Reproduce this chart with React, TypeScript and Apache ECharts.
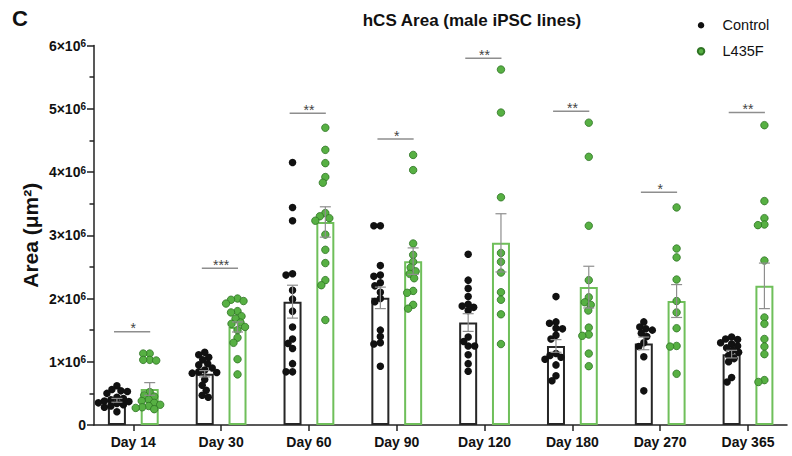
import React, { useEffect, useRef } from "react";
import * as echarts from "echarts";

const FONT = '"Liberation Sans", Arial, Helvetica, sans-serif';

// Categories
const days = ["Day 14", "Day 30", "Day 60", "Day 90", "Day 120", "Day 180", "Day 270", "Day 365"];

// Individual organoid areas, in 10^6 µm²
const controlValues: number[][] = [
  [0.62, 0.56, 0.54, 0.53, 0.5, 0.44, 0.42, 0.4, 0.38, 0.37, 0.35, 0.34, 0.32, 0.3, 0.28, 0.21],
  [1.15, 1.11, 1.07, 1.03, 0.97, 0.95, 0.9, 0.87, 0.84, 0.83, 0.82, 0.72, 0.63, 0.55, 0.47, 0.44],
  [4.15, 3.44, 3.23, 2.39, 2.37, 2.13, 1.99, 1.8, 1.55, 1.36, 1.29, 1.21, 0.97, 0.84, 0.84],
  [3.15, 3.15, 2.52, 2.37, 2.35, 2.25, 2.2, 2.1, 2.0, 1.95, 1.5, 1.4, 1.3, 1.28, 0.93],
  [2.7, 2.29, 2.16, 2.03, 1.91, 1.88, 1.86, 1.81, 1.39, 1.32, 1.25, 1.25, 1.11, 0.97, 0.85],
  [2.03, 1.63, 1.61, 1.53, 1.52, 1.42, 1.36, 1.13, 1.1, 1.07, 1.04, 0.95, 0.78, 0.7],
  [1.63, 1.55, 1.52, 1.5, 1.45, 1.4, 1.3, 1.24, 1.08, 0.54],
  [1.39, 1.36, 1.35, 1.3, 1.28, 1.25, 1.22, 1.18, 1.15, 1.1, 1.05, 1.0, 0.75, 0.68],
];
const l435fValues: number[][] = [
  [1.13, 1.13, 1.03, 1.03, 1.02, 0.52, 0.47, 0.45, 0.4, 0.38, 0.35, 0.32, 0.3, 0.28, 0.27, 0.25],
  [2.0, 1.98, 1.96, 1.92, 1.8, 1.78, 1.72, 1.68, 1.62, 1.6, 1.55, 1.5, 1.38, 1.3, 1.04, 0.8],
  [4.7, 4.35, 4.14, 3.92, 3.83, 3.35, 3.3, 3.27, 3.23, 3.01, 2.77, 2.56, 2.29, 2.21, 1.66],
  [4.27, 4.03, 2.87, 2.69, 2.58, 2.49, 2.43, 2.39, 2.32, 2.12, 2.09, 1.9, 1.84],
  [5.62, 4.94, 3.6, 2.72, 2.58, 2.41, 2.1, 1.98, 1.75, 1.28],
  [4.78, 4.24, 3.15, 2.29, 2.02, 1.94, 1.9, 1.81, 1.54, 1.43, 1.41, 1.13, 0.93],
  [3.44, 2.79, 2.65, 2.3, 1.96, 1.78, 1.53, 1.25, 1.24, 0.81],
  [4.74, 3.54, 3.27, 3.17, 3.16, 2.6, 1.7, 1.6, 1.36, 1.24, 1.12, 0.71, 0.68],
];

// Bar heights (mean) and SEM, in 10^6 µm²
const controlMean = [0.39, 0.81, 1.95, 2.01, 1.62, 1.25, 1.29, 1.12];
const controlSem = [0.03, 0.05, 0.26, 0.17, 0.14, 0.1, 0.1, 0.06];
const l435fMean = [0.57, 1.55, 3.21, 2.59, 2.88, 2.18, 1.96, 2.2];
const l435fSem = [0.1, 0.08, 0.24, 0.21, 0.46, 0.33, 0.26, 0.36];

// Significance brackets
const sigLevel = [1.475, 2.48, 4.93, 4.52, 5.8, 4.96, 3.68, 4.94];
const sigLabels = ["*", "***", "**", "*", "**", "**", "*", "**"];

// Y ticks
const yTicks = [0, 1, 2, 3, 4, 5, 6];

// Layout
const W = 792;
const H = 456;
const GRID_LEFT = 94;
const GRID_RIGHT = 5;
const GRID_TOP = 45.5;
const GRID_BOTTOM = 31;
const X_MIN = -0.4476;
const X_MAX = 7.444;
const PX_PER_X = (W - GRID_LEFT - GRID_RIGHT) / (X_MAX - X_MIN);
const PX_PER_Y = (H - GRID_TOP - GRID_BOTTOM) / (yTicks[yTicks.length - 1] - yTicks[0]);
const BAR_OFF = 16.4 / PX_PER_X;
const SIG_L = 19.3 / PX_PER_X;
const SIG_R = 16.9 / PX_PER_X;

const BLACK = "#111111";
const GREEN_BAR = "#6fbf5a";
const GREEN_DOT = "#57b043";
const GREEN_DOT_EDGE = "#2f7424";
const GREY = "#8e8e8e";

function swarmOffsets(values: number[], d: number): number[] {
  const idx = values.map((_, i) => i).sort((a, b) => values[b] - values[a]);
  const placed: { x: number; y: number }[] = [];
  const out = new Array(values.length).fill(0);
  for (const i of idx) {
    const y = values[i] * PX_PER_Y;
    for (let s = 0; s < 400; s++) {
      const c = s === 0 ? 0 : (s % 2 === 1 ? -1 : 1) * Math.ceil(s / 2) * 0.5;
      if (placed.every((p) => (p.x - c) ** 2 + (p.y - y) ** 2 >= d * d)) {
        out[i] = c;
        placed.push({ x: c, y });
        break;
      }
    }
  }
  return out;
}

function pointsFor(groups: number[][], side: number): number[][] {
  const res: number[][] = [];
  groups.forEach((vals, i) => {
    const jit = swarmOffsets(vals, 6.2);
    vals.forEach((v, k) => res.push([i + side * BAR_OFF + jit[k] / PX_PER_X, v]));
  });
  return res;
}

export default function App() {
  const ref = useRef<HTMLDivElement>(null);
  useEffect(() => {
    if (!ref.current) return;
    const chart = echarts.init(ref.current, undefined, { renderer: "svg" });

    const barData: any[] = [];
    days.forEach((_, i) => {
      barData.push({
        value: [i - BAR_OFF, controlMean[i]],
        itemStyle: { color: "rgba(255,255,255,0)", borderColor: "#262626", borderWidth: 2 },
      });
      barData.push({
        value: [i + BAR_OFF, l435fMean[i]],
        itemStyle: { color: "rgba(255,255,255,0)", borderColor: GREEN_BAR, borderWidth: 2 },
      });
    });

    const errData: number[][] = [];
    days.forEach((_, i) => {
      errData.push([i - BAR_OFF, controlMean[i], controlSem[i]]);
      errData.push([i + BAR_OFF, l435fMean[i], l435fSem[i]]);
    });

    const sigData = sigLevel.map((y, i) => [i, y]);

    const option: any = {
      animation: false,
      backgroundColor: "#ffffff",
      textStyle: { fontFamily: FONT },
      grid: {
        left: GRID_LEFT,
        right: GRID_RIGHT,
        top: GRID_TOP,
        bottom: GRID_BOTTOM,
        containLabel: false,
        outerBoundsMode: "none",
      },
      legend: {
        data: [
          { name: "Control", icon: "circle" },
          { name: "L435F", icon: "circle" },
        ],
        orient: "vertical",
        left: 696.8,
        top: 17.8,
        padding: 0,
        itemWidth: 33,
        itemHeight: 6.5,
        itemGap: 11,
        selectedMode: false,
        textStyle: { fontSize: 14.5, fontFamily: FONT, color: "#111" },
      },
      graphic: [
        {
          type: "text",
          x: 12,
          y: 18,
          style: {
            text: "C",
            fill: "#111",
            fontSize: 22,
            fontWeight: "bold",
            fontFamily: FONT,
            align: "left",
            verticalAlign: "middle",
          },
        },
        {
          type: "text",
          x: 472,
          y: 20,
          style: {
            text: "hCS Area (male iPSC lines)",
            fill: "#111",
            fontSize: 17,
            fontWeight: "bold",
            fontFamily: FONT,
            align: "center",
            verticalAlign: "middle",
          },
        },
      ],
      xAxis: {
        type: "value",
        min: X_MIN,
        max: X_MAX,
        splitLine: { show: false },
        axisLine: { show: true, onZero: false, lineStyle: { color: "#222", width: 1.5 } },
        axisTick: {
          show: true,
          length: 6,
          customValues: days.map((_, i) => i),
          lineStyle: { color: "#222", width: 1.5 },
        },
        axisLabel: {
          customValues: days.map((_, i) => i),
          formatter: (v: number) => days[Math.round(v)] ?? "",
          margin: 10,
          fontSize: 14,
          fontWeight: "bold",
          fontFamily: FONT,
          color: "#111",
        },
      },
      yAxis: {
        type: "value",
        min: yTicks[0],
        max: yTicks[yTicks.length - 1],
        interval: 1,
        name: "Area (μm²)",
        nameLocation: "middle",
        nameGap: 53,
        nameMoveOverlap: false,
        nameTextStyle: { fontSize: 21, fontWeight: "bold", fontFamily: FONT, color: "#111" },
        splitLine: { show: false },
        axisLine: { show: true, onZero: false, lineStyle: { color: "#222", width: 1.5 } },
        axisTick: { show: true, length: 7, lineStyle: { color: "#222", width: 1.5 } },
        minorTick: { show: true, splitNumber: 2, length: 4.5, lineStyle: { color: "#222", width: 1.5 } },
        minorSplitLine: { show: false },
        axisLabel: {
          margin: 8,
          formatter: (v: number) => (v === 0 ? "{a|0}" : `{a|${v}×10}{s|6}`),
          rich: {
            a: { fontSize: 14, fontWeight: "bold", fontFamily: FONT, color: "#111" },
            s: {
              fontSize: 10,
              fontWeight: "bold",
              fontFamily: FONT,
              color: "#111",
              verticalAlign: "top",
              lineHeight: 7,
            },
          },
        },
      },
      series: [
        {
          name: "means",
          type: "bar",
          barWidth: 18,
          data: barData,
          z: 2,
        },
        {
          name: "Control",
          type: "scatter",
          symbol: "circle",
          symbolSize: 7.5,
          itemStyle: { color: BLACK, opacity: 1 },
          data: pointsFor(controlValues, -1),
          z: 3,
        },
        {
          name: "L435F",
          type: "scatter",
          symbol: "circle",
          symbolSize: 7.5,
          itemStyle: { color: GREEN_DOT, borderColor: GREEN_DOT_EDGE, borderWidth: 0.8, opacity: 1 },
          data: pointsFor(l435fValues, 1),
          z: 3,
        },
        {
          name: "sem",
          type: "custom",
          z: 4,
          data: errData,
          encode: { x: 0, y: 1 },
          renderItem: (params: any, api: any) => {
            const x = api.value(0);
            const m = api.value(1);
            const s = api.value(2);
            const top = api.coord([x, m + s]);
            const bot = api.coord([x, m - s]);
            const half = 5.5;
            const st = { stroke: GREY, lineWidth: 1.2 };
            return {
              type: "group",
              children: [
                { type: "line", shape: { x1: top[0], y1: top[1], x2: bot[0], y2: bot[1] }, style: st },
                { type: "line", shape: { x1: top[0] - half, y1: top[1], x2: top[0] + half, y2: top[1] }, style: st },
                { type: "line", shape: { x1: bot[0] - half, y1: bot[1], x2: bot[0] + half, y2: bot[1] }, style: st },
              ],
            };
          },
        },
        {
          name: "significance",
          type: "custom",
          z: 4,
          data: sigData,
          encode: { x: 0, y: 1 },
          renderItem: (params: any, api: any) => {
            const i = api.value(0);
            const y = api.value(1);
            const a = api.coord([i - SIG_L, y]);
            const b = api.coord([i + SIG_R, y]);
            const c = api.coord([i, y]);
            return {
              type: "group",
              children: [
                {
                  type: "line",
                  shape: { x1: a[0], y1: a[1], x2: b[0], y2: b[1] },
                  style: { stroke: GREY, lineWidth: 1.5 },
                },
                {
                  type: "text",
                  x: c[0],
                  y: c[1] - 3.5,
                  style: {
                    text: sigLabels[params.dataIndex],
                    fill: "#444",
                    fontSize: 14,
                    fontFamily: FONT,
                    align: "center",
                    verticalAlign: "middle",
                  },
                },
              ],
            };
          },
        },
      ],
    };

    chart.setOption(option);
    return () => chart.dispose();
  }, []);

  return (
    <div
      ref={ref}
      style={{ position: "absolute", left: 0, top: 0, width: W, height: H, background: "#fff" }}
    />
  );
}
